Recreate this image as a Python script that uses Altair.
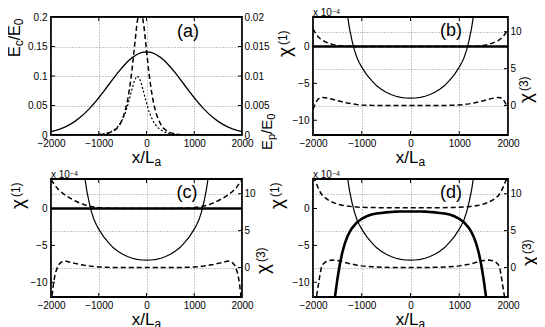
import altair as alt
import pandas as pd

FONT = "Liberation Sans"

# ---------------- data ----------------
# panel (a)
A_X_SOLID = [-2000, -1900, -1800, -1700, -1600, -1500, -1400, -1300, -1200, -1100, -1000,
             -900, -800, -700, -600, -500, -400, -300, -200, -100, 0,
             100, 200, 300, 400, 500, 600, 700, 800, 900, 1000,
             1100, 1200, 1300, 1400, 1500, 1600, 1700, 1800, 1900, 2000]
A_SOLID = [0.0057, 0.0077, 0.0104, 0.0138, 0.0180, 0.0231, 0.0291, 0.0362, 0.0443, 0.0533, 0.0631,
           0.0735, 0.0843, 0.0951, 0.1056, 0.1153, 0.1240, 0.1312, 0.1365, 0.1399, 0.1410,
           0.1399, 0.1365, 0.1312, 0.1240, 0.1153, 0.1056, 0.0951, 0.0843, 0.0735, 0.0631,
           0.0533, 0.0443, 0.0362, 0.0291, 0.0231, 0.0180, 0.0138, 0.0104, 0.0077, 0.0057]
A_X_PULSE = [-1000, -950, -900, -850, -800, -750, -700, -650, -600, -550, -500, -450,
             -400, -350, -300, -250, -200, -150, -100, -50, 0, 50, 100, 150, 200,
             250, 300, 350, 400, 450, 500, 550, 600, 650, 700]
A_DASHED = [0.00007, 0.0001, 0.00014, 0.00021, 0.0003, 0.00044, 0.00063, 0.00091, 0.0013, 0.0019,
            0.0028, 0.0040, 0.0057, 0.0081, 0.0113, 0.0151, 0.0189, 0.0213, 0.0210, 0.0182,
            0.0143, 0.0106, 0.0076, 0.0053, 0.0037, 0.0026, 0.0018, 0.0012, 0.00085, 0.00059,
            0.0004, 0.00028, 0.0002, 0.00013, 0.0001]
A_DOTTED = [0.0011, 0.0015, 0.0021, 0.0028, 0.0039, 0.0054, 0.0075, 0.0103, 0.0141, 0.0194,
            0.0266, 0.0361, 0.0484, 0.0632, 0.0792, 0.0929, 0.0998, 0.0967, 0.0853, 0.0696,
            0.0541, 0.0407, 0.0301, 0.0220, 0.0161, 0.0117, 0.0085, 0.0061, 0.0044, 0.0032,
            0.0023, 0.0017, 0.0012, 0.0009, 0.0006]

# chi(1) thin U curve (same in b, c, d), units 1e-4
U_X = [-1300, -1250, -1200, -1150, -1100, -1050, -1000, -900, -800, -700, -600, -500, -400,
       -300, -200, -100, 0, 100, 200, 300, 400, 500, 600, 700, 800, 900, 1000, 1050, 1100,
       1150, 1200, 1250, 1300]
U_Y = [4.5, 2.4, 0.8, -0.5, -1.5, -2.2, -2.8, -3.8, -4.6, -5.3, -5.8, -6.2, -6.5,
       -6.75, -6.9, -6.98, -7.0, -6.98, -6.9, -6.75, -6.5, -6.2, -5.8, -5.3, -4.6, -3.8, -2.8, -2.2, -1.5,
       -0.5, 0.8, 2.4, 4.5]

# thick chi(1) lines
FLAT_X = [-2000, 2000]
FLAT_Y = [0.0, 0.0]
D_THICK_X = [-1560, -1500, -1450, -1400, -1350, -1300, -1250, -1200, -1100, -1000, -900, -800,
             -700, -600, -500, -400, -300, -200, -100, 0, 100, 200, 300, 400, 500, 600, 700,
             800, 900, 1000, 1100, 1200, 1250, 1300, 1350, 1400, 1450, 1500, 1560]
D_THICK_Y = [-12.5, -9.6, -7.6, -6.0, -4.8, -3.9, -3.2, -2.65, -1.9, -1.4, -1.05, -0.82,
             -0.68, -0.6, -0.52, -0.47, -0.43, -0.41, -0.4, -0.4, -0.4, -0.41, -0.43, -0.47, -0.52, -0.6, -0.68,
             -0.82, -1.05, -1.4, -1.9, -2.65, -3.2, -3.9, -4.8, -6.0, -7.6, -9.6, -12.5]

# chi(3) upper dashed curves
B_TOP_X = [-2000, -1950, -1900, -1850, -1800, -1700, -1600, -1500, -1400, -1300, -1200, -1000,
           0, 1000, 1200, 1300, 1400, 1500, 1600, 1700, 1800, 1850, 1900, 1950, 2000]
B_TOP_Y = [10.4, 9.8, 9.35, 9.05, 8.8, 8.5, 8.28, 8.15, 8.08, 8.04, 8.02, 8.0,
           8.0, 8.0, 8.02, 8.04, 8.08, 8.15, 8.28, 8.5, 8.8, 9.05, 9.35, 9.8, 10.4]
CD_TOP_X = [-2000, -1950, -1900, -1850, -1800, -1700, -1600, -1500, -1400, -1300, -1200, -1100,
            -1000, -900, -800, -600, -400, 0, 400, 600, 800, 900, 1000, 1100, 1200, 1300,
            1400, 1500, 1600, 1700, 1800, 1850, 1900, 1950, 2000]
C_TOP_Y = [11.9, 11.45, 11.0, 10.6, 10.3, 9.8, 9.4, 9.05, 8.75, 8.5, 8.33, 8.2,
           8.12, 8.07, 8.04, 8.01, 8.0, 8.0, 8.0, 8.01, 8.04, 8.07, 8.12, 8.2, 8.33, 8.5,
           8.75, 9.05, 9.4, 9.8, 10.3, 10.6, 11.0, 11.45, 11.9]
D_TOP_Y = [12.3, 11.7, 10.9, 10.2, 9.7, 9.2, 8.85, 8.6, 8.45, 8.33, 8.25, 8.2,
           8.17, 8.15, 8.13, 8.11, 8.1, 8.1, 8.1, 8.11, 8.13, 8.15, 8.17, 8.2, 8.25, 8.33,
           8.45, 8.6, 8.85, 9.2, 9.7, 10.2, 10.9, 11.7, 12.3]

# chi(3) lower dashed curves
B_BOT_X = [-2000, -1950, -1900, -1850, -1800, -1700, -1600, -1500, -1400, -1300, -1200, -1100,
           -1000, -800, -600, 0, 600, 800, 1000, 1100, 1200, 1300, 1400, 1500, 1600, 1700,
           1800, 1850, 1900, 1950, 2000]
B_BOT_Y = [-0.5, 0.3, 0.85, 1.05, 1.1, 1.0, 0.85, 0.65, 0.5, 0.35, 0.22, 0.13,
           0.07, 0.02, 0.0, 0.0, 0.0, 0.02, 0.07, 0.13, 0.22, 0.35, 0.5, 0.65, 0.85, 1.0,
           1.1, 1.05, 0.85, 0.3, -0.5]
C_BOT_X = [-2000, -1975, -1950, -1925, -1900, -1850, -1800, -1750, -1700, -1600, -1500, -1400,
           -1300, -1200, -1100, -1000, -800, -600, 0, 600, 800, 1000, 1100, 1200, 1300, 1400,
           1500, 1600, 1700, 1750, 1800, 1850, 1900, 1925, 1950, 1975, 2000]
C_BOT_Y = [-6.0, -3.7, -2.3, -1.3, -0.6, 0.3, 0.65, 0.85, 0.88, 0.7, 0.56, 0.42,
           0.3, 0.2, 0.12, 0.07, 0.02, 0.0, 0.0, 0.0, 0.02, 0.07, 0.12, 0.2, 0.3, 0.42,
           0.56, 0.7, 0.88, 0.85, 0.65, 0.3, -0.6, -1.3, -2.3, -3.7, -6.0]
D_BOT_X = [-1960, -1930, -1900, -1860, -1830, -1800, -1750, -1700, -1600, -1500, -1400, -1300,
           -1200, -1100, -1000, -900, -800, -600, -400, 0, 400, 600, 800, 900, 1000, 1100,
           1200, 1300, 1400, 1500, 1600, 1700, 1750, 1800, 1830, 1860, 1900, 1930, 1960]
D_BOT_Y = [-6.0, -4.0, -2.8, -1.1, 0.0, 0.4, 0.72, 0.9, 1.0, 0.95, 0.8, 0.6,
           0.45, 0.32, 0.22, 0.15, 0.1, 0.04, 0.01, 0.0, 0.01, 0.04, 0.1, 0.15, 0.22, 0.32,
           0.45, 0.6, 0.8, 0.95, 1.0, 0.9, 0.72, 0.4, 0.0, -1.1, -2.8, -4.0, -6.0]

X_TICKS = [-2000, -1000, 0, 1000, 2000]
A_LEFT_TICKS = [0, 0.05, 0.1, 0.15, 0.2]
A_RIGHT_TICKS = [0, 0.005, 0.01, 0.015, 0.02]
CHI1_TICKS = [-10, -5, 0]
CHI3_TICKS = [0, 5, 10]

# ---------------- helpers ----------------
CW = {"E": 0.667, "c": 0.5, "/": 0.278, "0": 0.556, "p": 0.556, "x": 0.5, "L": 0.556,
      "a": 0.556, "χ": 0.55, "(": 0.333, ")": 0.333, "1": 0.556, "3": 0.556, " ": 0.278,
      "−": 0.584, "4": 0.556}


def tw(s, size):
    return sum(CW.get(ch, 0.556) for ch in s) * size


ONE = pd.DataFrame({"k": [0]})


def txt(s, x, y, size, angle=0, align="left"):
    return alt.Chart(ONE).mark_text(
        text=s, fontSize=size, angle=angle, align=align, baseline="alphabetic",
        font=FONT, color="black"
    ).encode(x=alt.value(x), y=alt.value(y))


def rich(pieces, x0, y0, vertical=False, gap=0.0):
    out, pos = [], 0.0
    for s, size, shift in pieces:
        if vertical:
            out.append(txt(s, x0 + shift, y0 - pos, size, angle=270))
        else:
            out.append(txt(s, x0 + pos, y0 + shift, size))
        pos += tw(s, size) + gap
    return out


XS = alt.Scale(domain=[-2000, 2000], nice=False, zero=False)
GRID = dict(gridColor="#666", gridDash=[1, 2], gridWidth=0.7)
LAB = dict(labelFont=FONT, labelFontSize=10, labelColor="black", labelFlush=False,
           labelOverlap=False, labelBound=False, ticks=False, domain=False, title=None,
           format="~r")


def xenc(field="x"):
    return alt.X(f"{field}:Q", scale=XS,
                 axis=alt.Axis(values=X_TICKS, grid=True, labelPadding=3, **GRID, **LAB))


def yenc(field, dom, vals, orient, grid):
    return alt.Y(f"{field}:Q", scale=alt.Scale(domain=dom, nice=False, zero=False),
                 axis=alt.Axis(orient=orient, values=vals, grid=grid,
                               labelPadding=4 if orient == "left" else 2, **GRID, **LAB))


def line(xs, ys, yspec, **style):
    df = pd.DataFrame({"x": xs, "y": ys})
    return alt.Chart(df).mark_line(clip=True, color="black", **style).encode(
        x=xenc(), y=yspec("y"))


def side(series, dom, vals, orient, grid, w, h):
    yspec = lambda f: yenc(f, dom, vals, orient, grid)
    layers = [line(xs, ys, yspec, **st) for xs, ys, st in series]
    inner = [v for v in vals if dom[0] < v < dom[1]]
    tdf = pd.DataFrame({"v": inner})
    x1, x2 = (0, 4) if orient == "left" else (w - 4, w)
    layers.append(alt.Chart(tdf).mark_rule(color="black", strokeWidth=1).encode(
        y=yspec("v"), x=alt.value(x1), x2=alt.value(x2)))
    return alt.layer(*layers)


def xticks(h):
    tdf = pd.DataFrame({"v": [-1000, 0, 1000]})
    bot = alt.Chart(tdf).mark_rule(color="black", strokeWidth=1).encode(
        x=xenc("v"), y=alt.value(h - 4), y2=alt.value(h))
    top = alt.Chart(tdf).mark_rule(color="black", strokeWidth=1).encode(
        x=xenc("v"), y=alt.value(0), y2=alt.value(4))
    return [bot, top]


THICK = dict(strokeWidth=2.6)
THIN = dict(strokeWidth=1.2)
DASH = dict(strokeWidth=1.5, strokeDash=[5, 3])
DOT = dict(strokeWidth=1.2, strokeDash=[2, 2])

H = 118


def xtitle(w, h):
    total = tw("x/L", 17) + tw("a", 12)
    return rich([("x/L", 17, 0), ("a", 12, 3)], (w - total) / 2, h + 28)


def chi(n, x0, y0):
    return rich([("χ", 19, 0), (f"({n})", 12, -4)], x0, y0, vertical=True, gap=1.5)


def exp_note():
    return [txt("x 10", 0, -1, 10), txt("−4", tw("x 10", 10) + 0.5, -3.5, 6.5)]


def panel(w, left, ldom, lvals, lgrid, right, rdom, rvals, rgrid, extra):
    L = side(left, ldom, lvals, "left", lgrid, w, H)
    R = side(right, rdom, rvals, "right", rgrid, w, H)
    layers = [L, R] + xticks(H) + xtitle(w, H) + extra
    return alt.layer(*layers).resolve_scale(y="independent").properties(width=w, height=H)


WA, WB = 191, 195

pa = panel(
    WA,
    [(A_X_SOLID, A_SOLID, dict(strokeWidth=1.3)), (A_X_PULSE, A_DOTTED, DOT)],
    [0, 0.2], A_LEFT_TICKS, True,
    [(A_X_PULSE, A_DASHED, DASH)],
    [0, 0.02], A_RIGHT_TICKS, False,
    rich([("E", 16, 0), ("c", 12, 3), ("/E", 16, 0), ("0", 12, 3)], -31, 40, vertical=True)
    + rich([("E", 15, 0), ("p", 11, 3), ("/E", 15, 0), ("0", 11, 3)], 221, 133, vertical=True)
    + [txt("(a)", 137, 20, 18, align="center")],
)

pb = panel(
    WB,
    [(FLAT_X, FLAT_Y, THICK), (U_X, U_Y, THIN)],
    [-12, 4], CHI1_TICKS, False,
    [(B_TOP_X, B_TOP_Y, DASH), (B_BOT_X, B_BOT_Y, DASH)],
    [-4, 12], CHI3_TICKS, True,
    chi(1, -22, 40) + chi(3, 219, 86) + exp_note() + [txt("(b)", 138, 19, 18, align="center")],
)

pc = panel(
    WA,
    [(FLAT_X, FLAT_Y, THICK), (U_X, U_Y, THIN)],
    [-12, 4], CHI1_TICKS, False,
    [(CD_TOP_X, C_TOP_Y, DASH), (C_BOT_X, C_BOT_Y, DASH)],
    [-4, 12], CHI3_TICKS, True,
    chi(1, -27, 30) + chi(3, 218, 95) + exp_note() + [txt("(c)", 136, 19, 18, align="center")],
)

pd_ = panel(
    WB,
    [(D_THICK_X, D_THICK_Y, THICK), (U_X, U_Y, THIN)],
    [-12, 4], CHI1_TICKS, False,
    [(CD_TOP_X, D_TOP_Y, DASH), (D_BOT_X, D_BOT_Y, DASH)],
    [-4, 12], CHI3_TICKS, True,
    chi(1, -30, 30) + chi(3, 222, 87) + exp_note() + [txt("(d)", 138, 19, 18, align="center")],
)

chart = alt.concat(
    pa, pb, pc, pd_, columns=2, spacing={"row": 44, "column": 71}, bounds="flush"
).properties(
    autosize=alt.AutoSizeParams(type="none"),
    padding={"left": 43, "top": 9, "right": 486, "bottom": 311},
    background="white",
).configure_view(stroke="black", strokeWidth=1.8)

chart.save("out.html", embed_options={"renderer": "svg", "actions": False})
